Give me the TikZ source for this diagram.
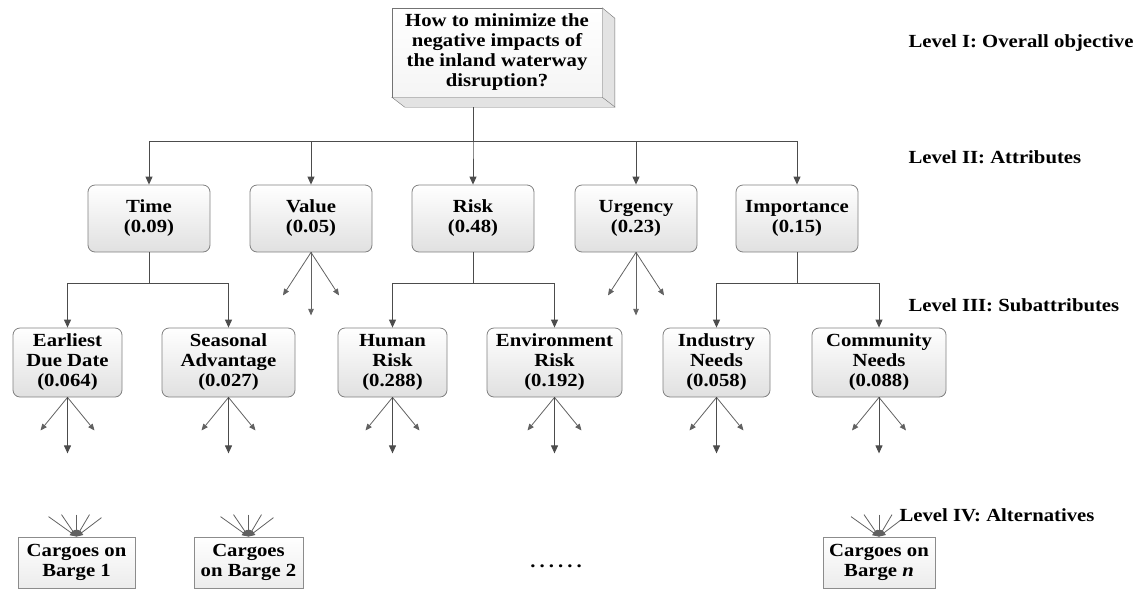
\documentclass[tikz,border=0pt]{standalone}
\usepackage{fontspec}
\setmainfont{Liberation Serif}[FakeStretch=1.12]
\usetikzlibrary{arrows.meta}

\begin{document}
\begin{tikzpicture}[x=1pt, y=-1pt,
        every node/.style={font=\fontsize{18.5}{20}\selectfont\bfseries},
        goal/.style={draw=black!55, top color=white, bottom color=gray!8, minimum width=210pt, minimum height=89pt, align=center, inner sep=0pt},
        attr/.style={draw=black!50, line width=0.8pt, rounded corners=7pt, top color=white, bottom color=gray!24, minimum width=122pt, minimum height=67pt, align=center, inner sep=0pt},
        sub/.style={attr, minimum height=69pt},
        alt/.style={draw=black!45, line width=0.8pt, top color=white, bottom color=gray!15, minimum height=51pt, align=center, inner sep=0pt},
        lvl/.style={anchor=west},
        conn/.style={draw=black!70, line width=1pt, -{Triangle[length=8pt,width=7pt]}},
        fan/.style={draw=black!62, line width=0.8pt, -{Triangle[length=6.5pt,width=5.5pt]}}]
    \useasboundingbox (0,0) rectangle (1139,590);

    % level I
    \node[goal] (goal) at (497,52.5) {How to minimize the\\negative impacts of\\the inland waterway\\disruption?};
    \draw[draw=black!55, fill=gray!22] (goal.south west) -- ++(13,10) -- ++(210,0) -- ++(0,-89)
        -- (goal.north east) -- (goal.south east) -- cycle;
    \draw[draw=black!55] (goal.south east) -- ++(13,10);
    \coordinate (trunk) at (473,107);
    \coordinate (bus) at (0,141);

    % level II
    \node[attr] (time) at (149,218.5) {Time\\(0.09)};
    \node[attr] (value) at (311,218.5) {Value\\(0.05)};
    \node[attr] (risk) at (473,218.5) {Risk\\(0.48)};
    \node[attr] (urgency) at (636,218.5) {Urgency\\(0.23)};
    \node[attr] (importance) at (797,218.5) {Importance\\(0.15)};
    \foreach \n in {time,value,risk,urgency,importance}
        \draw[conn] (trunk) |- (bus -| \n) -- (\n.north);

    % level III
    \node[sub, minimum width=109pt] (edd) at (67.5,362.5) {Earliest\\Due Date\\(0.064)};
    \node[sub, minimum width=133pt] (sea) at (228.5,362.5) {Seasonal\\Advantage\\(0.027)};
    \node[sub, minimum width=109pt] (hum) at (392.5,362.5) {Human\\Risk\\(0.288)};
    \node[sub, minimum width=135pt] (env) at (554.5,362.5) {Environment\\Risk\\(0.192)};
    \node[sub, minimum width=107pt] (ind) at (716.5,362.5) {Industry\\Needs\\(0.058)};
    \node[sub, minimum width=134pt] (com) at (879,362.5) {Community\\Needs\\(0.088)};
    \foreach \p/\a/\b in {time/edd/sea, risk/hum/env, importance/ind/com} {
        \draw[conn] (\p.south) -- ++(0,31) -| (\a.north);
        \draw[conn] (\p.south) -- ++(0,31) -| (\b.north);
    }
    \foreach \n in {value,urgency} {
        \draw[fan] (\n.south) -- ++(-28,43);
        \draw[fan] (\n.south) -- ++(28,43);
        \draw[fan] (\n.south) -- ++(0,63);
    }
    \foreach \n in {edd,sea,hum,env,ind,com} {
        \draw[fan] (\n.south) -- ++(-27,33);
        \draw[fan] (\n.south) -- ++(27,33);
        \draw[conn] (\n.south) -- ++(0,56);
    }

    % level IV
    \node[alt, minimum width=117pt] (b1) at (76.5,562.5) {Cargoes on\\Barge 1};
    \node[alt, minimum width=109pt] (b2) at (248.5,562.5) {Cargoes\\on Barge 2};
    \node[alt, minimum width=112pt] (bn) at (879,562.5) {Cargoes on\\Barge \textit{n}};
    \foreach \n in {b1,b2,bn}
        \foreach \dx/\dy in {-28/-20,-15/-22,0/-22,13/-22,25/-19}
            \draw[fan] (\n.north) ++(\dx,\dy) -- (\n.north);
    \node (dots) at (556,566) {\addfontfeature{LetterSpace=22}......};

    % level labels
    \node[lvl] (l1) at (905,43) {Level I: Overall objective};
    \node[lvl] (l2) at (905,157) {Level II: Attributes};
    \node[lvl] (l3) at (905,305) {Level III: Subattributes};
    \node[lvl] (l4) at (896,515) {Level IV: Alternatives};
\end{tikzpicture}
\end{document}
